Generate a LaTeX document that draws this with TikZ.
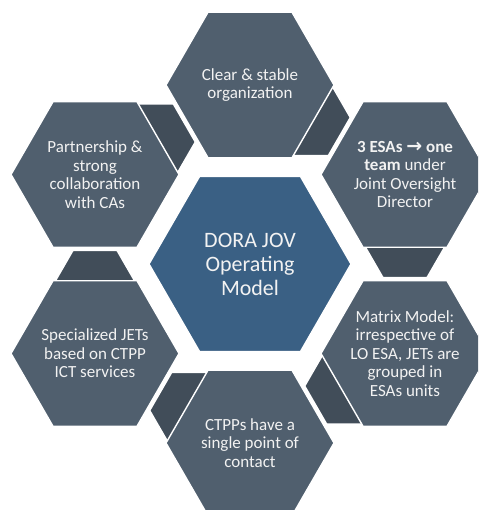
\documentclass[tikz,border=0pt]{standalone}
\usepackage{fontspec}
\setmainfont{Carlito}
\newfontfamily\arrowfont{DejaVu Sans}
\usetikzlibrary{shapes.geometric,calc}
\definecolor{hexfill}{HTML}{505F6E}
\definecolor{linkfill}{HTML}{414D59}
\definecolor{corefill}{HTML}{3A6084}
\definecolor{txt}{HTML}{F2F2F2}
\begin{document}
\begin{tikzpicture}[x=1pt,y=-1pt,
  hexshape/.style={regular polygon, regular polygon sides=6, inner sep=0pt, outer sep=0pt, draw=white, line width=1.4pt},
  outerhex/.style={hexshape, fill=hexfill, minimum size=168pt},
  corehex/.style={hexshape, fill=corefill, minimum size=202pt},
  linkhex/.style={hexshape, fill=linkfill, minimum size=88pt},
  hextext/.style={text=txt, align=center, inner sep=0pt, font=\fontsize{17}{18.5}\selectfont},
  coretext/.style={text=txt, align=center, inner sep=0pt, font=\fontsize{22}{24}\selectfont}]
\useasboundingbox (0,0) rectangle (478,510);
\clip (0,0) rectangle (478,510);
% ring positions
\coordinate (ptop) at (250,85);
\coordinate (ptr) at (405,174.5);
\coordinate (pbr) at (405,353.5);
\coordinate (pbot) at (250,443);
\coordinate (pbl) at (95,353.5);
\coordinate (ptl) at (95,174.5);
\coordinate (pcore) at (250,264);
% connectors (behind)
\node[linkhex] (l1) at ($(ptop)!65pt!(ptr)$) {};
\node[linkhex] (l2) at ($(ptr)!65pt!(pbr)$) {};
\node[linkhex] (l3) at ($(pbr)!65pt!(pbot)$) {};
\node[linkhex] (l4) at ($(pbot)!65pt!(pbl)$) {};
\node[linkhex] (l5) at ($(pbl)!65pt!(ptl)$) {};
\node[linkhex] (l6) at ($(ptl)!65pt!(ptop)$) {};
% outer hexagons
\node[outerhex] (htop) at (ptop) {};
\node[outerhex] (htr) at (ptr) {};
\node[outerhex] (hbr) at (pbr) {};
\node[outerhex] (hbot) at (pbot) {};
\node[outerhex] (hbl) at (pbl) {};
\node[outerhex] (htl) at (ptl) {};
\node[corehex] (hcore) at (pcore) {};
% texts
\node[hextext] (ttop) at (htop.center) {Clear \& stable\\organization};
\node[hextext] (ttr) at (htr.center) {\textbf{3 ESAs {\arrowfont\fontsize{19}{18.5}\selectfont\bfseries →} one}\\\textbf{team} under\\Joint Oversight\\Director};
\node[hextext] (tbr) at (hbr.center) {Matrix Model:\\irrespective of\\LO ESA, JETs are\\grouped in\\ESAs units};
\node[hextext] (tbot) at (hbot.center) {CTPPs have a\\single point of\\contact};
\node[hextext] (tbl) at (hbl.center) {Specialized JETs\\based on CTPP\\ICT services};
\node[hextext] (ttl) at (htl.center) {Partnership \&\\strong\\collaboration\\with CAs};
\node[coretext] (tcore) at (hcore.center) {DORA JOV\\Operating\\Model};
\end{tikzpicture}
\end{document}
